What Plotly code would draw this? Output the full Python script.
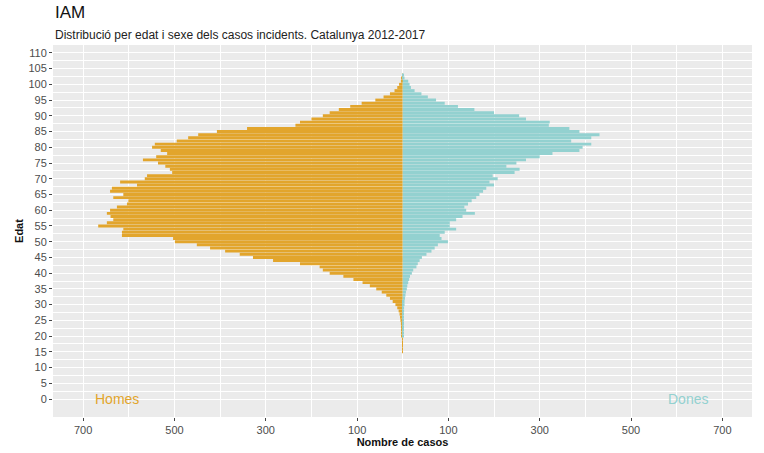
import plotly.graph_objects as go

ages = list(range(0, 104))

homes = [0]*15 + [
    1, 1, 1, 1, 1,            # 15-19
    2, 2, 3, 3, 4,            # 20-24
    5, 6, 7, 9, 12,           # 25-29
    16, 22, 28, 36, 46,       # 30-34
    58, 72, 88, 108, 130,     # 35-39
    160, 175, 182, 225, 284,  # 40-44
    328, 357, 389, 422, 451,  # 45-49
    499, 503, 615, 615, 612,  # 50-54
    667, 648, 634, 640, 648,  # 55-59
    641, 626, 604, 601, 634,  # 60-64
    612, 641, 637, 582, 619,  # 65-69
    565, 560, 505, 510, 520,  # 70-74
    536, 569, 540, 516, 530,  # 75-79
    549, 543, 495, 470, 448,  # 80-84
    407, 341, 235, 225, 200,  # 85-89
    175, 160, 140, 115, 90,   # 90-94
    60, 42, 28, 18, 12,       # 95-99
    8, 4, 2, 1,               # 100-103
]

dones = [0]*20 + [
    1, 1, 1, 1,               # 20-23
    1, 2, 2, 2, 3, 3,         # 24-29
    4, 4, 5, 6, 7,            # 30-34
    9, 10, 12, 14, 16,        # 35-39
    20, 23, 30, 33, 37,       # 40-44
    42, 52, 63, 70, 77,       # 45-49
    99, 85, 81, 92, 117,      # 50-54
    103, 103, 117, 131, 158,  # 55-59
    139, 135, 143, 151, 161,  # 60-64
    168, 176, 183, 200, 190,  # 65-69
    208, 197, 245, 256, 227,  # 70-74
    249, 270, 300, 328, 387,  # 75-79
    394, 413, 369, 413, 431,  # 80-84
    387, 365, 320, 322, 270,  # 85-89
    255, 200, 157, 121, 92,   # 90-94
    73, 55, 41, 26, 18,       # 95-99
    15, 12, 4, 2,             # 100-103
]

x_ticks = [-700, -500, -300, -100, 100, 300, 500, 700]
x_ticktext = ["700", "500", "300", "100", "100", "300", "500", "700"]
y_ticks = list(range(0, 111, 5))

orange = "#E2A52C"
teal = "#93D1D0"
font_family = "Liberation Sans, Arial, sans-serif"

fig = go.Figure()
fig.add_trace(go.Bar(
    y=ages, x=[-v for v in homes], orientation="h",
    marker=dict(color=orange, line=dict(width=0)),
    name="Homes", showlegend=False, hoverinfo="skip",
))
fig.add_trace(go.Bar(
    y=ages, x=dones, orientation="h",
    marker=dict(color=teal, line=dict(width=0)),
    name="Dones", showlegend=False, hoverinfo="skip",
))

fig.add_annotation(x=-625, y=0, text="Homes", showarrow=False,
                   font=dict(color=orange, size=14, family=font_family))
fig.add_annotation(x=625, y=0, text="Dones", showarrow=False,
                   font=dict(color=teal, size=14, family=font_family))

fig.add_annotation(x=0, y=1, xref="paper", yref="paper", xanchor="left", yanchor="bottom",
                   yshift=21, text="IAM", showarrow=False,
                   font=dict(size=17, color="#111111", family=font_family))
fig.add_annotation(x=0, y=1, xref="paper", yref="paper", xanchor="left", yanchor="bottom",
                   yshift=1, text="Distribució per edat i sexe dels casos incidents. Catalunya 2012-2017",
                   showarrow=False, font=dict(size=12, color="#222222", family=font_family))

fig.update_layout(
    width=764, height=453,
    margin=dict(l=53, r=12, t=45, b=36),
    plot_bgcolor="#EBEBEB", paper_bgcolor="white",
    barmode="relative", bargap=0.06,
    font=dict(family=font_family, size=11, color="#4D4D4D"),
    xaxis=dict(
        range=[-766, 765], tickvals=x_ticks, ticktext=x_ticktext,
        showgrid=True, gridcolor="white", gridwidth=1.1, zeroline=False,
        ticks="outside", ticklen=3, tickcolor="#444444", automargin=False,
        minor=dict(tickvals=[-600, -400, -200, 0, 200, 400, 600], showgrid=True,
                   gridcolor="white", gridwidth=0.5, ticks=""),
        title=dict(text="<b>Nombre de casos</b>", font=dict(size=11, color="#111111"), standoff=2),
        tickfont=dict(size=11, color="#4D4D4D"),
    ),
    yaxis=dict(
        range=[-5.7, 112.5], tickvals=y_ticks,
        showgrid=True, gridcolor="white", gridwidth=1.1, zeroline=False,
        ticks="outside", ticklen=3, tickcolor="#444444", automargin=False,
        minor=dict(tickvals=[v + 2.5 for v in y_ticks[:-1]], showgrid=True,
                   gridcolor="white", gridwidth=0.5, ticks=""),
        title=dict(text="<b>Edat</b>", font=dict(size=11, color="#111111"), standoff=2),
        tickfont=dict(size=11, color="#4D4D4D"),
    ),
)

fig.write_html("out.html", config={"displayModeBar": False},
               post_script="document.body.style.margin='0px';document.body.style.overflow='hidden';")
